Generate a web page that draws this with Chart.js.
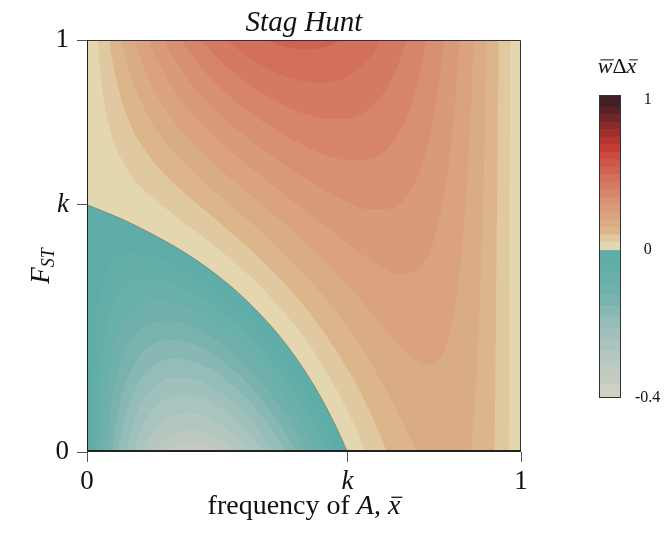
<!DOCTYPE html>
<html>
<head>
<meta charset="utf-8">
<script src="https://cdn.jsdelivr.net/npm/chart.js@4.4.1/dist/chart.umd.min.js"></script>
<style>
  body { margin: 0; background: #fff; }
  #wrap { position: relative; width: 667px; height: 533px; }
  #main { position: absolute; left: 0; top: 0; }
  #bar { position: absolute; left: 585px; top: 80px; }
</style>
</head>
<body>
<div id="wrap">
<canvas id="main" width="667" height="533"></canvas>
<canvas id="bar" width="82" height="330"></canvas>
</div>
<script>
// axis ticks
var k = 0.6;
var xTicks = [0, k, 1];
var xTickLabels = ['0', 'k', '1'];
var yTicks = [0, k, 1];
var yTickLabels = ['0', 'k', '1'];

// contour lines, [x, F_ST] pairs, one per level of w*dx
// positive side: area above each line is >= level
var lvl000 = [[0,0.6],[0.05,0.579],[0.1,0.556],[0.15,0.529],[0.2,0.5],[0.25,0.467],[0.3,0.429],[0.35,0.385],[0.4,0.333],[0.45,0.273],[0.5,0.2],[0.55,0.111],[0.6,0],[0.65,-0.143],[0.8,-0.4],[1,-0.6]];
var lvl005 = [[0.01,1.59],[0.02,1.10],[0.025,1.0],[0.035,0.883],[0.05,0.794],[0.1,0.675],[0.15,0.619],[0.2,0.576],[0.3,0.495],[0.4,0.401],[0.5,0.278],[0.55,0.198],[0.6,0.101],[0.642,0],[0.7,-0.18],[0.973,0],[0.974,0.5],[0.975,1.0],[0.985,1.5]];
var lvl010 = [[0.03,1.28],[0.04,1.11],[0.0512,1.0],[0.07,0.891],[0.1,0.795],[0.15,0.709],[0.2,0.652],[0.25,0.605],[0.3,0.561],[0.4,0.468],[0.5,0.355],[0.6,0.202],[0.65,0.101],[0.691,0],[0.75,-0.186],[0.939,0],[0.944,0.5],[0.949,1.0],[0.96,1.5]];
var lvl015 = [[0.06,1.12],[0.0791,1.0],[0.1,0.915],[0.15,0.798],[0.2,0.728],[0.25,0.674],[0.3,0.627],[0.4,0.536],[0.5,0.433],[0.6,0.304],[0.65,0.223],[0.7,0.129],[0.76,0],[0.8,-0.09],[0.84,-0.146],[0.884,0],[0.9,0.236],[0.91,0.507],[0.915,0.70],[0.921,1.0],[0.93,1.6]];
var lvl020 = [[0.09,1.08],[0.109,1.0],[0.15,0.888],[0.2,0.803],[0.25,0.743],[0.3,0.693],[0.4,0.603],[0.5,0.511],[0.6,0.405],[0.65,0.345],[0.7,0.283],[0.75,0.228],[0.78,0.211],[0.8,0.214],[0.824,0.249],[0.85,0.364],[0.87,0.565],[0.88,0.731],[0.891,1.0],[0.9,1.31]];
var lvl025 = [[0.12,1.07],[0.1413,1.0],[0.15,0.977],[0.2,0.879],[0.25,0.812],[0.3,0.759],[0.4,0.670],[0.5,0.588],[0.6,0.506],[0.65,0.467],[0.7,0.437],[0.72,0.431],[0.75,0.436],[0.775,0.459],[0.8,0.517],[0.83,0.671],[0.85,0.872],[0.8587,1.0],[0.87,1.23]];
var lvl030 = [[0.16,1.04],[0.1769,1.0],[0.2,0.955],[0.25,0.881],[0.3,0.825],[0.35,0.779],[0.4,0.738],[0.5,0.666],[0.6,0.607],[0.65,0.589],[0.7,0.591],[0.75,0.643],[0.78,0.725],[0.8,0.820],[0.8231,1.0],[0.84,1.21]];
var lvl035 = [[0.2,1.03],[0.217,1.0],[0.25,0.950],[0.3,0.891],[0.35,0.844],[0.4,0.805],[0.45,0.772],[0.5,0.744],[0.55,0.721],[0.6,0.708],[0.65,0.711],[0.7,0.745],[0.75,0.850],[0.783,1.0],[0.8,1.12]];
var lvl040 = [[0.25,1.02],[0.2637,1.0],[0.3,0.957],[0.35,0.910],[0.4,0.873],[0.45,0.843],[0.5,0.821],[0.55,0.808],[0.6,0.809],[0.65,0.833],[0.7,0.900],[0.7363,1.0],[0.75,1.06]];
var lvl045 = [[0.3,1.02],[0.3224,1.0],[0.35,0.976],[0.4,0.940],[0.45,0.914],[0.5,0.899],[0.55,0.896],[0.6,0.910],[0.65,0.955],[0.6776,1.0],[0.7,1.05]];
var lvl050 = [[0.4,1.01],[0.4147,1.0],[0.45,0.986],[0.5,0.977],[0.55,0.983],[0.5853,1.0],[0.6,1.01]];

// negative side: area below each line is <= level
var lvlm03 = [[0.005,-0.58],[0.01,0.002],[0.02,0.289],[0.03,0.381],[0.05,0.450],[0.1,0.484],[0.15,0.476],[0.2,0.455],[0.25,0.425],[0.3,0.389],[0.35,0.345],[0.4,0.293],[0.45,0.230],[0.5,0.153],[0.55,0.059],[0.6,-0.061],[0.65,-0.2]];
var lvlm06 = [[0.01,-0.593],[0.02,-0.015],[0.03,0.175],[0.05,0.321],[0.07,0.378],[0.1,0.412],[0.15,0.422],[0.2,0.409],[0.25,0.384],[0.3,0.349],[0.35,0.306],[0.4,0.252],[0.45,0.187],[0.5,0.107],[0.55,0.007],[0.6,-0.121]];
var lvlm09 = [[0.02,-0.318],[0.03,-0.032],[0.05,0.192],[0.07,0.281],[0.1,0.340],[0.15,0.368],[0.2,0.364],[0.25,0.342],[0.3,0.310],[0.35,0.266],[0.4,0.212],[0.45,0.144],[0.5,0.060],[0.55,-0.046],[0.6,-0.182]];
var lvlm12 = [[0.03,-0.238],[0.05,0.063],[0.07,0.185],[0.1,0.268],[0.15,0.315],[0.2,0.318],[0.25,0.301],[0.3,0.270],[0.35,0.227],[0.4,0.172],[0.45,0.102],[0.5,0.014],[0.55,-0.098]];
var lvlm15 = [[0.05,-0.067],[0.07,0.089],[0.1,0.196],[0.15,0.261],[0.2,0.272],[0.25,0.260],[0.3,0.230],[0.35,0.188],[0.4,0.131],[0.45,0.059],[0.5,-0.033]];
var lvlm18 = [[0.05,-0.196],[0.07,-0.007],[0.1,0.124],[0.15,0.207],[0.2,0.227],[0.25,0.218],[0.3,0.191],[0.35,0.148],[0.4,0.091],[0.45,0.016],[0.5,-0.080]];
var lvlm21 = [[0.07,-0.104],[0.1,0.052],[0.12,0.107],[0.15,0.153],[0.2,0.181],[0.25,0.177],[0.3,0.151],[0.35,0.109],[0.4,0.050],[0.45,-0.027]];
var lvlm24 = [[0.1,-0.020],[0.12,0.044],[0.15,0.100],[0.2,0.136],[0.25,0.135],[0.3,0.112],[0.35,0.070],[0.4,0.010],[0.45,-0.07]];
var lvlm27 = [[0.1,-0.092],[0.12,-0.019],[0.15,0.046],[0.2,0.090],[0.25,0.094],[0.3,0.072],[0.35,0.030],[0.4,-0.031]];
var lvlm30 = [[0.12,-0.081],[0.15,-0.008],[0.2,0.045],[0.25,0.052],[0.3,0.032],[0.35,-0.009],[0.4,-0.066]];
var lvlm32 = [[0.15,-0.044],[0.2,0.015],[0.25,0.025],[0.3,0.006],[0.35,-0.036]];

var posLines = [lvl000, lvl005, lvl010, lvl015, lvl020, lvl025, lvl030, lvl035, lvl040, lvl045, lvl050];
var negLevels = [-0.03, -0.06, -0.09, -0.12, -0.15, -0.18, -0.21, -0.24, -0.27, -0.30, -0.32];
var negLines = [lvlm03, lvlm06, lvlm09, lvlm12, lvlm15, lvlm18, lvlm21, lvlm24, lvlm27, lvlm30, lvlm32];

// colour bar
var cbPosEdges = [0, 0.05, 0.1, 0.15, 0.2, 0.25, 0.3, 0.35, 0.4, 0.45, 0.5, 0.55, 0.6, 0.65, 0.7, 0.75, 0.8, 0.85, 0.9, 0.95, 1.03];
var cbNegEdges = [0].concat(negLevels).concat([-0.36, -0.4]);
var cbTicks = [-0.4, 0, 1];
var cbTickLabels = ['-0.4', '0', '1'];

// colours
var posPalette = ['#E4D6AF', '#E0C9A0', '#DCB68A', '#D9AC83', '#DAA37E', '#D99A79', '#D89074', '#D6856C', '#D47A64', '#D2705B',
  '#CF6352', '#CD5849', '#CA4A3F', '#C53C34', '#B5342F', '#A02E2D', '#8A2A2B', '#722628', '#5A2226', '#402024'];
var negBase = '#5EADA9';
var negColors = ['#64AEAA', '#69AFAB', '#70B0AC', '#7AB2AE', '#88B8B4', '#94BCB8', '#9FC0BB', '#A9C4BE', '#B3C7C0', '#BCC9C0', '#C3CABF'];
var negLast = '#D0D0C5';

var serif = 'Liberation Serif';
var NEG_STRETCH = 2.467;
function cbPos(v) { return v < 0 ? v * NEG_STRETCH : v; }

function toPts(arr) {
  return arr.map(function (p) { return { x: p[0], y: p[1] }; });
}

var datasets = [];
posLines.forEach(function (line, i) {
  datasets.push({
    data: toPts(line), showLine: true, fill: 'end',
    backgroundColor: posPalette[i],
    borderColor: i === 0 ? 'rgba(115,110,85,0.6)' : 'rgba(0,0,0,0)',
    borderWidth: i === 0 ? 1 : 0,
    pointRadius: 0, cubicInterpolationMode: 'monotone', clip: 0
  });
});
negLines.forEach(function (line, i) {
  datasets.push({
    data: toPts(line), showLine: true, fill: 'start',
    backgroundColor: negColors[i], borderColor: 'rgba(0,0,0,0)', borderWidth: 0,
    pointRadius: 0, cubicInterpolationMode: 'monotone', clip: 0
  });
});
// first in list is painted first
datasets.forEach(function (d, i) { d.order = datasets.length - i; });

function drawParts(ctx, parts, x, y, size) {
  function fnt(p) { return (p[1] ? 'italic ' : '') + Math.round(size * (p[3] || 1)) + 'px "' + serif + '"'; }
  var widths = parts.map(function (p) { ctx.font = fnt(p); return ctx.measureText(p[0]).width; });
  var total = widths.reduce(function (a, b) { return a + b; }, 0);
  var cx = x - total / 2;
  parts.forEach(function (p, i) {
    var s = size * (p[3] || 1);
    ctx.font = fnt(p);
    ctx.fillText(p[0], cx, y + (p[4] || 0));
    if (p[2]) ctx.fillRect(cx + s * 0.12, y - s * 0.62, widths[i] - s * 0.05, Math.max(1, s * 0.045));
    cx += widths[i];
  });
}

var plotBg = {
  id: 'plotBg',
  beforeDatasetsDraw: function (chart) {
    var a = chart.chartArea, c = chart.ctx;
    c.save();
    c.fillStyle = negBase;
    c.fillRect(a.left, a.top, a.right - a.left, a.bottom - a.top);
    c.restore();
  }
};

var frameText = {
  id: 'frameText',
  afterDraw: function (chart) {
    var a = chart.chartArea, c = chart.ctx;
    c.save();
    c.strokeStyle = '#333';
    c.lineWidth = 1;
    c.beginPath();
    c.moveTo(a.left, a.top + 0.5); c.lineTo(a.right - 0.5, a.top + 0.5); c.lineTo(a.right - 0.5, a.bottom);
    c.stroke();
    c.strokeStyle = '#222';
    c.beginPath(); c.moveTo(a.left + 0.5, a.top); c.lineTo(a.left + 0.5, a.bottom); c.stroke();
    c.lineWidth = 2;
    c.beginPath(); c.moveTo(a.left, a.bottom - 1); c.lineTo(a.right, a.bottom - 1); c.stroke();

    c.fillStyle = '#111';
    c.textBaseline = 'alphabetic';
    c.textAlign = 'left';
    drawParts(c, [['Stag Hunt', true]], (a.left + a.right) / 2, 31, 29);
    drawParts(c, [['frequency of ', false], ['A', true], [', ', false], ['x', true, true]], (a.left + a.right) / 2, 514, 28);
    drawParts(c, [['w', true, true], ['\u0394', false], ['x', true, true]], 617, 73, 22);
    c.translate(40, 266);
    c.rotate(-Math.PI / 2);
    drawParts(c, [['F', true], ['ST', true, false, 0.68, 5]], 0, 9, 27);
    c.restore();
  }
};

new Chart(document.getElementById('main'), {
  type: 'scatter',
  data: { datasets: datasets },
  options: {
    responsive: false, animation: false, devicePixelRatio: 1,
    layout: { padding: { left: 0, right: 146, top: 40, bottom: 0 } },
    plugins: { legend: { display: false }, tooltip: { enabled: false } },
    elements: { point: { radius: 0 }, line: { capBezierPoints: false } },
    scales: {
      x: {
        type: 'linear', min: 0, max: 1, position: 'bottom',
        afterBuildTicks: function (s) { s.ticks = xTicks.map(function (v) { return { value: v }; }); },
        afterFit: function (s) { s.height = 81; s.paddingLeft = 0; s.paddingRight = 0; },
        grid: { drawOnChartArea: false, drawTicks: true, tickLength: 10, tickColor: '#555', z: 1 },
        border: { display: false },
        ticks: {
          autoSkip: false, maxRotation: 0, padding: 4, color: '#111',
          font: function (c) { return { family: serif, size: 27, style: c.index === 1 ? 'italic' : 'normal' }; },
          callback: function (v, i) { return xTickLabels[i]; }
        }
      },
      y: {
        type: 'linear', min: 0, max: 1, position: 'left',
        afterBuildTicks: function (s) { s.ticks = yTicks.map(function (v) { return { value: v }; }); },
        afterFit: function (s) { s.width = 87; s.paddingTop = 0; s.paddingBottom = 0; },
        grid: { drawOnChartArea: false, drawTicks: true, tickLength: 10, tickColor: '#555', z: 1 },
        border: { display: false },
        ticks: {
          autoSkip: false, padding: 8, color: '#111',
          font: function (c) { return { family: serif, size: 27, style: c.index === 1 ? 'italic' : 'normal' }; },
          callback: function (v, i) { return yTickLabels[i]; }
        }
      }
    }
  },
  plugins: [plotBg, frameText]
});

// colour bar
var cbColorsNeg = [negBase].concat(negColors).concat([negLast]);
var cbSets = [];
for (var i = 0; i < cbPosEdges.length - 1; i++) {
  cbSets.push({ data: [[cbPos(cbPosEdges[i]), cbPos(cbPosEdges[i + 1])]], backgroundColor: posPalette[i] });
}
for (var j = 0; j < cbNegEdges.length - 1; j++) {
  cbSets.push({ data: [[cbPos(cbNegEdges[j + 1]), cbPos(cbNegEdges[j])]], backgroundColor: cbColorsNeg[j] });
}

var cbFrame = {
  id: 'cbFrame',
  afterDraw: function (chart) {
    var a = chart.chartArea, c = chart.ctx;
    c.save();
    c.strokeStyle = '#333';
    c.lineWidth = 1;
    c.strokeRect(a.left + 0.5, a.top + 0.5, a.right - a.left - 1, a.bottom - a.top - 1);
    c.restore();
  }
};

new Chart(document.getElementById('bar'), {
  type: 'bar',
  data: { labels: [''], datasets: cbSets },
  options: {
    responsive: false, animation: false, devicePixelRatio: 1,
    layout: { padding: { left: 14, right: 0, top: 15, bottom: 12 } },
    plugins: { legend: { display: false }, tooltip: { enabled: false } },
    datasets: { bar: { grouped: false, barPercentage: 1, categoryPercentage: 1, borderWidth: 0 } },
    scales: {
      x: { display: false },
      y: {
        position: 'right', min: cbPos(-0.4), max: 1.03,
        afterBuildTicks: function (s) { s.ticks = cbTicks.map(function (v) { return { value: cbPos(v) }; }); },
        afterFit: function (s) { s.width = 46; s.paddingTop = 0; s.paddingBottom = 0; },
        grid: { display: false },
        border: { display: false },
        ticks: {
          autoSkip: false, padding: 6, crossAlign: 'center', color: '#111',
          font: { family: serif, size: 16 },
          callback: function (v, i) { return cbTickLabels[i]; }
        }
      }
    }
  },
  plugins: [cbFrame]
});
</script>
</body>
</html>
